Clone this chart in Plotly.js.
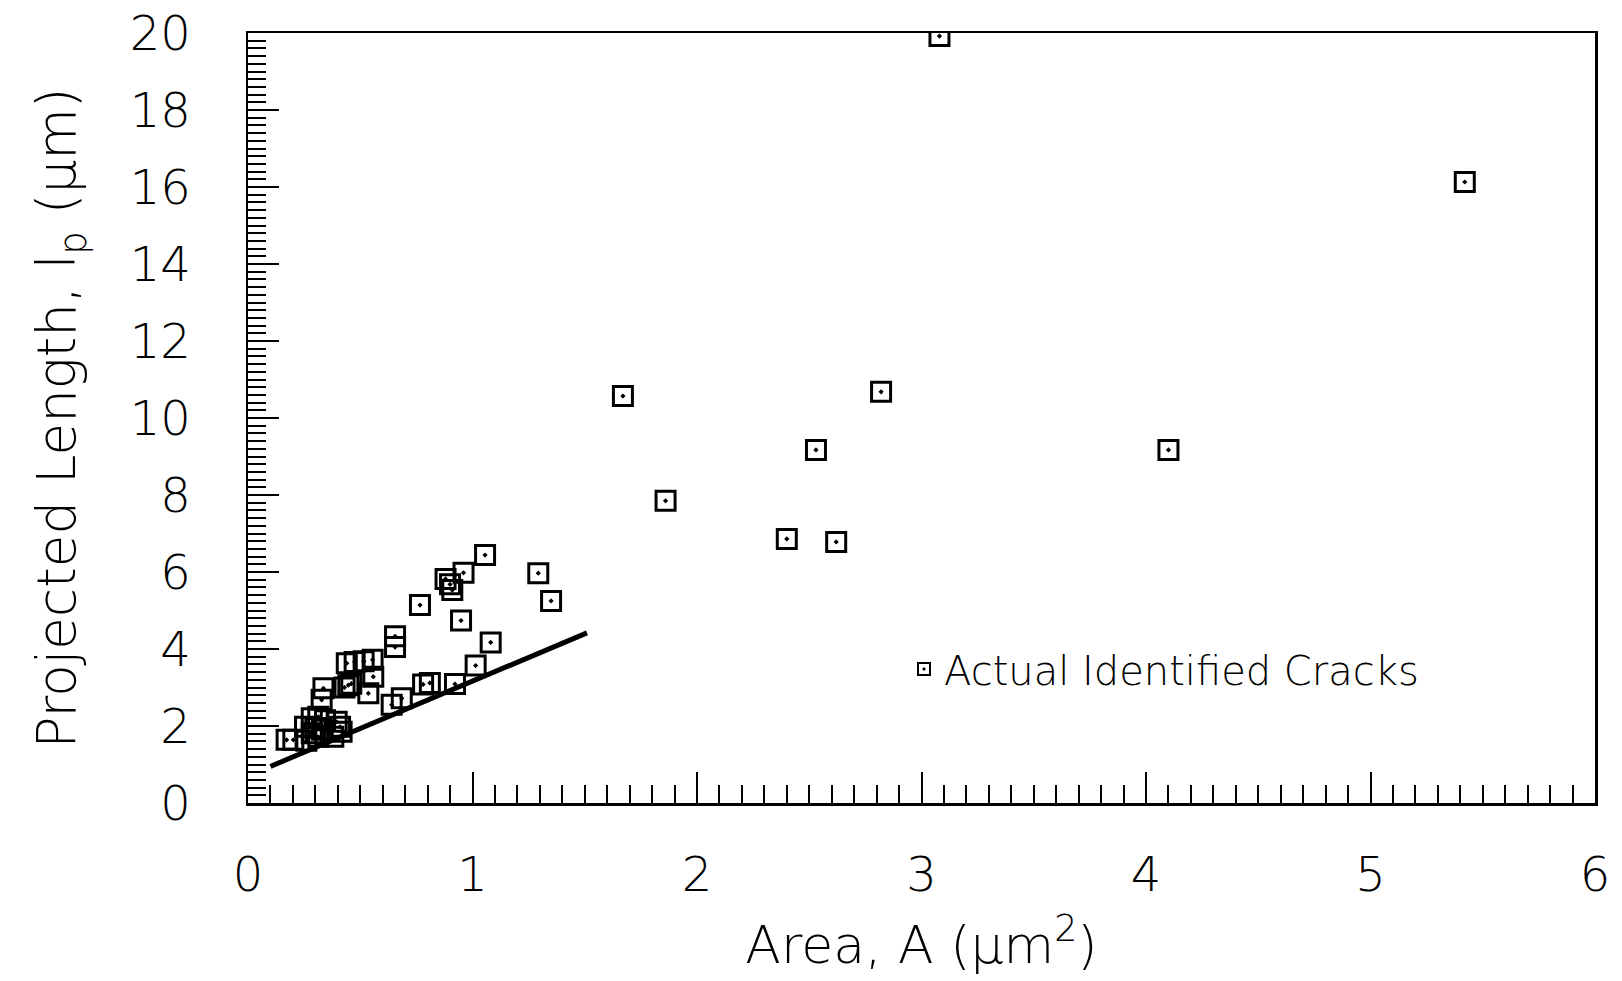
<!DOCTYPE html>
<html>
<head>
<meta charset="utf-8">
<script src="https://cdn.plot.ly/plotly-3.0.1.min.js"></script>
<style>
  html, body { margin: 0; padding: 0; background: #ffffff; }
  #chart { width: 1622px; height: 981px; }
</style>
</head>
<body>
<div id="chart"></div>
<script>
// Measured cracks: area A (µm²) and projected length l_p (µm)
var areaA = [
  3.08, 5.42, 1.67, 2.82, 2.53, 4.10, 1.86, 2.40, 2.62,
  1.056, 1.293, 1.350, 0.766, 0.949, 1.081, 1.014,
  0.96, 0.88, 0.90, 0.91, 0.655, 0.655, 0.78, 0.81, 0.922,
  0.44, 0.475, 0.515, 0.555, 0.558, 0.685, 0.64,
  0.336, 0.328, 0.447, 0.43, 0.46, 0.536,
  0.284, 0.313, 0.343, 0.395, 0.41, 0.284, 0.313, 0.254, 0.26, 0.38, 0.417,
  0.172, 0.202, 0.30, 0.33
];
var lengthLp = [
  19.92, 16.13, 10.57, 10.68, 9.17, 9.17, 7.85, 6.86, 6.78,
  6.44, 5.97, 5.25, 5.14, 4.74, 4.17, 3.57,
  5.98, 5.82, 5.68, 5.53, 4.33, 4.05, 3.08, 3.12, 3.09,
  3.63, 3.66, 3.68, 3.72, 3.28, 2.72, 2.55,
  2.98, 2.68, 3.06, 3.00, 3.10, 2.85,
  2.20, 2.24, 2.15, 2.11, 1.98, 1.81, 1.72, 1.98, 1.62, 1.72, 1.85,
  1.64, 1.64, 1.95, 1.90
];
// Lower-bound line
var lineA = [0.10, 1.51];
var lineLp = [0.95, 4.42];

var xTickVals = [0, 1, 2, 3, 4, 5, 6];
var yTickVals = [0, 2, 4, 6, 8, 10, 12, 14, 16, 18, 20];

var fontFam = '"DejaVu Sans", "Liberation Sans", sans-serif';

var traces = [
  {
    x: lineA, y: lineLp, type: 'scatter', mode: 'lines',
    line: { color: '#000000', width: 5 },
    showlegend: false, hoverinfo: 'skip'
  },
  {
    x: areaA, y: lengthLp, type: 'scatter', mode: 'markers',
    name: 'Actual Identified Cracks',
    marker: { symbol: 'square-open-dot', size: 19, color: '#000000',
              line: { color: '#000000', width: 3 } }
  }
];

var layout = {
  width: 1622, height: 981,
  margin: { l: 248, r: 27, t: 33, b: 178 },
  paper_bgcolor: '#ffffff', plot_bgcolor: '#ffffff',
  font: { family: fontFam, color: '#000000', weight: 300 },
  showlegend: true,
  legend: {
    x: 0.487, y: 0.174, xanchor: 'left', yanchor: 'middle',
    bgcolor: 'rgba(0,0,0,0)', borderwidth: 0,
    font: { family: fontFam, size: 40, color: '#000000', weight: 300 },
    itemwidth: 30, itemsizing: 'constant'
  },
  xaxis: {
    range: [0, 6], tickvals: xTickVals, ticktext: xTickVals.map(String),
    ticks: 'inside', ticklen: 31, tickwidth: 2, tickcolor: '#000000',
    minor: { dtick: 0.1, ticks: 'inside', ticklen: 18, tickwidth: 2, tickcolor: '#000000', showgrid: false },
    showline: true, linewidth: 2.5, linecolor: '#000000', mirror: true,
    showgrid: false, zeroline: false,
    tickfont: { family: fontFam, size: 48, color: '#000000', weight: 300 },
    ticklabelstandoff: 28,
    title: { text: 'Area, A (μm<sup>2</sup>)', standoff: 26,
             font: { family: fontFam, size: 52, color: '#000000', weight: 300 } }
  },
  yaxis: {
    range: [0, 20], tickvals: yTickVals, ticktext: yTickVals.map(String),
    ticks: 'inside', ticklen: 31, tickwidth: 2, tickcolor: '#000000',
    minor: { dtick: 0.2, ticks: 'inside', ticklen: 18, tickwidth: 2, tickcolor: '#000000', showgrid: false },
    showline: true, linewidth: 2.5, linecolor: '#000000', mirror: true,
    showgrid: false, zeroline: false,
    tickfont: { family: fontFam, size: 48, color: '#000000', weight: 300 },
    ticklabelstandoff: 45,
    title: { text: 'Projected Length, l<sub>p</sub> (μm)', standoff: 38,
             font: { family: fontFam, size: 53, color: '#000000', weight: 300 } }
  }
};

Plotly.newPlot('chart', traces, layout, { displayModeBar: false, staticPlot: true });
</script>
</body>
</html>
